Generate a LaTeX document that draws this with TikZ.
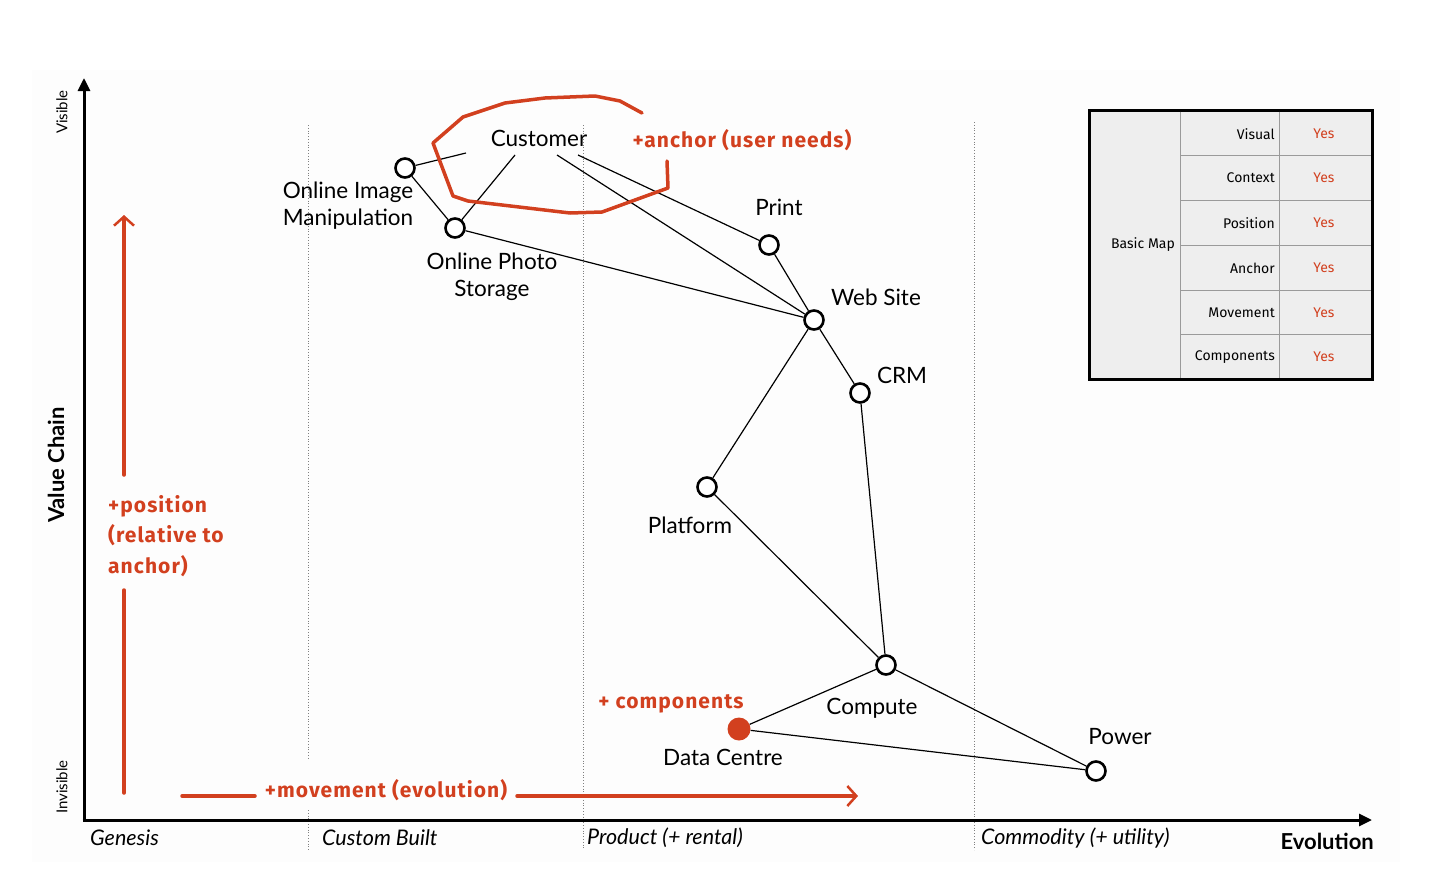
\documentclass[tikz,border=0pt]{standalone}
\usepackage{fontspec}
\setmainfont{Lato}
\newfontfamily\hand[LetterSpace=5]{Fira Sans}
\newfontfamily\handtbl{Fira Sans}
\usetikzlibrary{arrows.meta}
\definecolor{redink}{HTML}{D2401F}
\definecolor{tablebg}{HTML}{EEEEEE}
\definecolor{gridgray}{HTML}{9A9A9A}
\begin{document}
\begin{tikzpicture}[x=1pt,y=-1pt,
  comp/.style={circle,draw,line width=2.6pt,fill=white,minimum size=19pt,inner sep=0pt},
  lbl/.style={font=\fontsize{22.5}{27}\selectfont,align=center,inner sep=1pt},
  axlbl/.style={font=\fontsize{21.5}{24}\selectfont\itshape,anchor=west,inner sep=0pt},
  note/.style={text=redink,font=\hand\bfseries\fontsize{21}{30}\selectfont,inner sep=0pt},
  tbl/.style={font=\handtbl\fontsize{14}{16}\selectfont,inner sep=0pt},
  link/.style={line width=1.2pt},
  redline/.style={draw=redink,line width=3.5pt,line cap=round,line join=round},
  colline/.style={dotted,gray,line width=0.8pt},
  axisline/.style={line width=3pt,-{Triangle[length=13pt,width=12pt]}}
]
\useasboundingbox (0,0) rectangle (1446,886);
\fill[white!97!black,opacity=0.2] (32,70) rectangle (1400,862);

% column separators
\draw[colline] (308,125) -- (308,760);
\draw[colline] (308,810) -- (308,850);
\draw[colline] (583,125) -- (583,850);
\draw[colline] (974,122) -- (974,850);

% axes
\coordinate (origin) at (84,820);
\coordinate (ytop) at (84,78);
\coordinate (xend) at (1372,820);
\draw[axisline] (84,821.5) -- (ytop);
\draw[axisline] (82.5,820) -- (xend);

% axis labels
\node[rotate=90,font=\fontsize{15}{18}\selectfont] (vis) at (62,112) {Visible};
\node[rotate=90,font=\fontsize{15}{18}\selectfont] (invis) at (62,787) {Invisible};
\node[rotate=90,font=\bfseries\fontsize{22}{26}\selectfont] (vchain) at (56,465) {Value Chain};
\node[axlbl] (gen) at (90,838) {Genesis};
\node[axlbl] (custb) at (322,838) {Custom Built};
\node[axlbl] (prod) at (587,838) {Product (+ rental)};
\node[axlbl] (comm) at (981,838) {Commodity (+ utility)};
\node[font=\bfseries\fontsize{22}{26}\selectfont,anchor=east,inner sep=0pt] (evo) at (1374,841) {Evolution};

% components
\node[lbl] (customer) at (539,138) {Customer};
\coordinate (c1) at (466,153);
\coordinate (c2) at (515,155);
\coordinate (c3) at (557,155);
\coordinate (c4) at (578,155);
\node[comp] (oim) at (405,168) {};
\node[comp] (ops) at (455,228) {};
\node[comp] (print) at (769,245) {};
\node[comp] (web) at (814,320) {};
\node[comp] (crm) at (860,393) {};
\node[comp] (plat) at (707,487) {};
\node[comp] (compute) at (886,665) {};
\node[circle,fill=redink,minimum size=23pt,inner sep=0pt] (dc) at (739,729) {};
\node[comp] (power) at (1096,771) {};

\draw[link] (c1) -- (oim);
\draw[link] (c2) -- (ops);
\draw[link] (c3) -- (web);
\draw[link] (c4) -- (print);
\draw[link] (oim) -- (ops);
\draw[link] (ops) -- (web);
\draw[link] (print) -- (web);
\draw[link] (web) -- (crm);
\draw[link] (web) -- (plat);
\draw[link] (crm) -- (compute);
\draw[link] (plat) -- (compute);
\draw[link] (compute) -- (dc);
\draw[link] (compute) -- (power);
\draw[link] (dc) -- (power);

% labels
\node[lbl] (loim) at (348,206) {Online Image\\Manipulation};
\node[lbl] (lops) at (492,277) {Online Photo\\Storage};
\node[lbl] (lprint) at (779,207) {Print};
\node[lbl] (lweb) at (876,297) {Web Site};
\node[lbl] (lcrm) at (902,375) {CRM};
\node[lbl] (lplat) at (690,525) {Platform};
\node[lbl] (lcompute) at (872,708) {Compute};
\node[lbl] (ldc) at (723,757) {Data Centre};
\node[lbl] (lpower) at (1120,737) {Power};

% red annotations
\draw[redline] (642,113) -- (620,101) -- (595,96) -- (545,98) -- (505,103) -- (463,117) -- (433,143) -- (453,196) -- (468,201) -- (570,213) -- (602,212) -- (668,188) -- (667,161);
\node[note] (nanchor) at (742,140) {+anchor (user needs)};
\node[note,align=left,anchor=west,font=\hand\bfseries\fontsize{21}{30.5}\selectfont] (npos) at (108,536) {+position\\(relative to\\anchor)};
\node[note] (ncomp) at (671,704) {+ components};
\node[note] (nmove) at (386,790) {+movement (evolution)};
\coordinate (pa1) at (124,475);
\coordinate (pa2) at (124,215);
\coordinate (pb1) at (124,590);
\coordinate (pb2) at (124,793);
\coordinate (ma1) at (182,796);
\coordinate (ma2) at (255,796);
\coordinate (mb1) at (517,796);
\coordinate (mb2) at (858,796);
\draw[redline,-{Straight Barb[length=9pt,width=20pt,line width=2.5pt]}] (pa1) -- (pa2);
\draw[redline] (pb1) -- (pb2);
\draw[redline] (ma1) -- (ma2);
\draw[redline,-{Straight Barb[length=9pt,width=20pt,line width=2.5pt]}] (mb1) -- (mb2);

% table
\draw[line width=3pt,fill=tablebg] (1089,110) rectangle (1372,379);
\draw[gridgray,line width=1pt] (1180,111.5) -- (1180,377.5);
\draw[gridgray,line width=1pt] (1279,111.5) -- (1279,377.5);
\foreach \yy in {155,200,245,290,334}
  \draw[gridgray,line width=1pt] (1180,\yy) -- (1370.5,\yy);
\node[tbl] (tbm) at (1143,245) {Basic Map};
\node[tbl,anchor=east] (t1) at (1275,134) {Visual};
\node[tbl,anchor=east] (t2) at (1275,178) {Context};
\node[tbl,anchor=east] (t3) at (1275,223) {Position};
\node[tbl,anchor=east] (t4) at (1275,268) {Anchor};
\node[tbl,anchor=east] (t5) at (1275,313) {Movement};
\node[tbl,anchor=east] (t6) at (1275,357) {Components};
\foreach \yy/\nm in {134/y1,178/y2,223/y3,268/y4,313/y5,357/y6}
  \node[tbl,text=redink] (\nm) at (1324,\yy) {Yes};
\end{tikzpicture}
\end{document}
